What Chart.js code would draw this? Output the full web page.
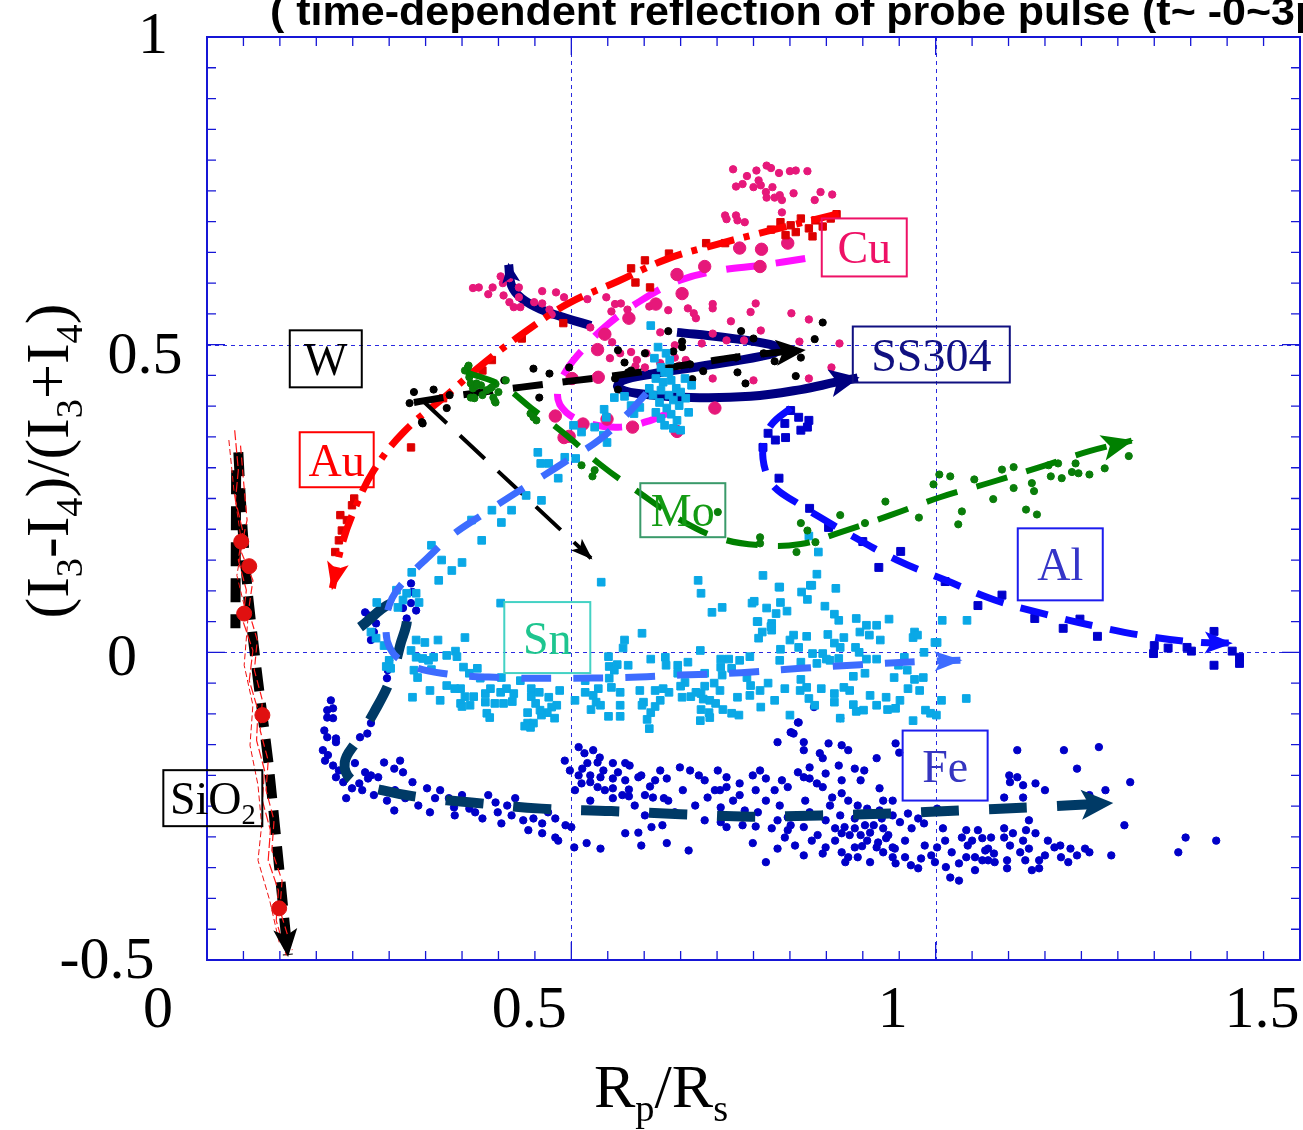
<!DOCTYPE html>
<html><head><meta charset="utf-8">
<script src="https://cdn.jsdelivr.net/npm/chart.js@4.4.0/dist/chart.umd.min.js"></script>
<style>html,body{margin:0;padding:0;background:#fff;}canvas{display:block;}</style>
</head><body>
<canvas id="c" width="1303" height="1130"></canvas>
<script>
// ---------------- axis ticks ----------------
const xTickValues = [0, 0.5, 1, 1.5];
const xTickLabels = ['0', '0.5', '1', '1.5'];
const yTickValues = [-0.5, 0, 0.5, 1];
const yTickLabels = ['-0.5', '0', '0.5', '1'];
const xGridValues = [0.5, 1.0];
const yGridValues = [0, 0.5];
const titleText = '( time-dependent reflection of probe pulse (t~ -0~3ps) )';

// ---------------- data (Rp/Rs , (I3-I4)/(I3+I4)) ----------------
const sio2Circles = [[0.047,0.180],[0.058,0.140],[0.051,0.063],[0.076,-0.102],[0.099,-0.416]];
const sio2Trace1 = [[0.038,0.361],[0.043,0.296],[0.039,0.247],[0.049,0.198],[0.043,0.150],[0.054,0.101],[0.049,0.052],[0.063,0.003],[0.058,-0.046],[0.070,-0.094],[0.068,-0.143],[0.079,-0.192],[0.076,-0.241],[0.087,-0.289],[0.084,-0.338],[0.098,-0.387],[0.095,-0.436],[0.109,-0.493]];
const sio2Trace2 = [[0.046,0.336],[0.050,0.280],[0.055,0.215],[0.046,0.166],[0.063,0.117],[0.057,0.068],[0.069,0.020],[0.065,-0.029],[0.076,-0.078],[0.073,-0.127],[0.084,-0.176],[0.081,-0.224],[0.092,-0.273],[0.089,-0.322],[0.103,-0.371],[0.100,-0.419],[0.117,-0.484]];
const sio2Trace3 = [[0.030,0.345],[0.037,0.263],[0.048,0.174],[0.041,0.125],[0.056,0.052],[0.051,-0.021],[0.063,-0.086],[0.059,-0.151],[0.070,-0.216],[0.075,-0.281],[0.070,-0.338],[0.086,-0.403],[0.100,-0.476]];
const sio2Trend = [[0.043,0.325],[0.049,0.198],[0.057,0.085],[0.070,-0.046],[0.084,-0.176],[0.098,-0.338],[0.111,-0.492]];
const sio2Early = [[0.040,0.296],[0.039,0.039]];
const sio2Outer = [[-0.050,0.340],[-0.047,0.296],[-0.043,0.291]];

const moTrend = [[0.356,0.455],[0.404,0.434],[0.445,0.397],[0.493,0.353],[0.541,0.304],[0.589,0.263],[0.650,0.215],[0.705,0.185],[0.760,0.174],[0.815,0.176],[0.869,0.195],[0.938,0.223],[1.006,0.252],[1.075,0.276],[1.143,0.301],[1.211,0.327],[1.269,0.344]];
const moPoints = [[0.358,0.463],[0.354,0.458],[0.360,0.447],[0.362,0.437],[0.365,0.429],[0.370,0.437],[0.362,0.414],[0.367,0.413],[0.378,0.418],[0.389,0.429],[0.393,0.414],[0.396,0.406],[0.384,0.426],[0.376,0.434],[0.410,0.442],[0.396,0.436],[0.448,0.382],[0.444,0.388],[0.359,0.466],[0.370,0.434],[0.391,0.431],[0.400,0.423],[0.395,0.408],[0.366,0.414],[0.514,0.304],[0.532,0.296],[0.529,0.286],[0.452,0.377],[1.005,0.289],[1.020,0.286],[0.997,0.273],[1.053,0.281],[1.091,0.297],[1.107,0.301],[1.107,0.267],[1.079,0.249],[1.124,0.232],[1.139,0.224],[1.132,0.275],[1.135,0.262],[1.036,0.229],[1.031,0.208],[0.977,0.219],[0.903,0.210],[0.931,0.245],[0.869,0.223],[0.815,0.210],[0.824,0.198],[0.835,0.179],[0.809,0.163],[0.759,0.187],[0.759,0.177],[0.701,0.228],[1.155,0.304],[1.168,0.307],[1.158,0.286],[1.173,0.283],[1.187,0.293],[1.196,0.291],[1.211,0.289],[1.232,0.299],[1.265,0.319],[1.192,0.307]];

const alTrend = [[0.801,0.397],[0.774,0.369],[0.763,0.332],[0.767,0.293],[0.780,0.267],[0.808,0.244],[0.839,0.221],[0.884,0.190],[0.947,0.150],[1.014,0.117],[1.081,0.085],[1.150,0.062],[1.221,0.042],[1.291,0.026],[1.362,0.016],[1.405,0.015]];
const alPoints = [[0.801,0.393],[0.812,0.382],[0.826,0.377],[0.824,0.366],[0.815,0.361],[0.793,0.372],[0.780,0.345],[0.770,0.356],[0.763,0.333],[0.794,0.349],[0.785,0.283],[0.827,0.234],[0.853,0.203],[0.900,0.180],[0.922,0.138],[0.952,0.164],[1.013,0.115],[1.058,0.076],[1.091,0.093],[1.136,0.055],[1.175,0.039],[1.198,0.054],[1.222,0.026],[1.300,0.011],[1.299,-0.002],[1.319,0.007],[1.345,0.008],[1.351,0.002],[1.382,0.034],[1.382,-0.021],[1.407,0.002],[1.417,-0.008],[1.417,-0.018]];

const snTrend = [[0.603,0.421],[0.575,0.385],[0.538,0.345],[0.500,0.316],[0.463,0.288],[0.425,0.260],[0.377,0.223],[0.336,0.190],[0.302,0.153],[0.274,0.120],[0.254,0.088],[0.246,0.049],[0.251,0.007],[0.274,-0.018],[0.322,-0.034],[0.404,-0.041],[0.486,-0.042],[0.568,-0.041],[0.650,-0.037],[0.733,-0.033],[0.815,-0.026],[0.897,-0.020],[0.979,-0.015],[1.034,-0.013]];
const snPoints = [[0.350,0.146],[0.318,0.117],[0.403,0.080],[0.541,0.114],[0.674,0.117],[0.678,0.096],[0.763,0.125],[0.837,0.127],[0.786,0.106],[0.828,0.109],[0.863,0.104],[0.816,0.098],[0.824,0.086],[0.748,0.080],[0.768,0.072],[0.787,0.081],[0.796,0.067],[0.781,0.063],[0.848,0.075],[0.707,0.073],[0.693,0.065],[0.861,0.062],[0.755,0.050],[0.775,0.047],[0.775,0.036],[0.762,0.033],[0.891,0.055],[0.905,0.044],[0.919,0.044],[0.936,0.054],[0.867,0.052],[0.805,0.028],[0.823,0.026],[0.852,0.029],[0.874,0.024],[0.861,0.015],[0.869,0.008],[0.890,0.008],[0.895,0.000],[0.909,0.028],[0.971,0.033],[0.969,0.024],[0.999,0.016],[0.787,0.005],[0.812,0.008],[0.831,-0.002],[0.845,-0.002],[0.850,-0.011],[0.867,-0.010],[0.905,-0.011],[0.919,-0.011],[0.957,-0.008],[0.984,0.000],[0.815,-0.016],[0.837,-0.018],[0.903,-0.034],[0.949,-0.021],[0.961,-0.029],[0.971,-0.044],[0.983,-0.041],[0.887,-0.039],[0.943,-0.041],[0.815,-0.044],[0.823,-0.057],[0.843,-0.059],[0.874,-0.057],[0.962,-0.059],[0.826,-0.075],[0.861,-0.067],[0.861,-0.081],[0.932,-0.073],[0.887,-0.085],[0.919,-0.086],[0.934,-0.093],[0.945,-0.091],[0.901,-0.094],[0.891,-0.096],[0.869,-0.107],[0.969,-0.111],[0.986,-0.094],[0.993,-0.099],[1.008,-0.078],[1.042,-0.075],[1.009,0.052],[1.043,0.052],[0.975,0.028],[1.002,0.016],[1.001,-0.102],
[0.552,-0.023],[0.563,-0.020],[0.559,-0.029],[0.578,-0.021],[0.609,-0.011],[0.629,-0.008],[0.646,-0.021],[0.660,-0.016],[0.630,-0.021],[0.646,-0.034],[0.656,-0.049],[0.551,-0.007],[0.597,0.031],[0.573,0.020],[0.571,0.007],[0.552,-0.042],[0.555,-0.057],[0.567,-0.065],[0.537,-0.059],[0.530,-0.070],[0.519,-0.065],[0.534,-0.081],[0.540,-0.086],[0.527,-0.093],[0.551,-0.104],[0.567,-0.104],[0.599,-0.081],[0.597,-0.086],[0.609,-0.098],[0.615,-0.088],[0.604,-0.109],[0.607,-0.124],[0.615,-0.062],[0.626,-0.059],[0.634,-0.065],[0.652,-0.073],[0.650,-0.055],[0.664,-0.072],[0.678,-0.067],[0.681,-0.076],[0.690,-0.078],[0.698,-0.083],[0.678,-0.093],[0.689,-0.098],[0.708,-0.093],[0.690,-0.106],[0.720,-0.099],[0.730,-0.102],[0.728,-0.073],[0.745,-0.070],[0.746,-0.054],[0.741,-0.041],[0.770,-0.050],[0.760,-0.089],[0.793,-0.059],[0.745,-0.007],[0.716,-0.011],[0.705,-0.011],[0.705,-0.024],[0.720,-0.026],[0.707,-0.037],[0.683,-0.034],[0.696,-0.050],[0.683,-0.055],[0.671,-0.065],
[0.311,-0.008],[0.329,-0.005],[0.341,0.002],[0.343,-0.007],[0.352,-0.024],[0.371,-0.026],[0.360,-0.034],[0.375,-0.042],[0.329,-0.054],[0.348,-0.059],[0.354,-0.072],[0.348,-0.083],[0.366,-0.072],[0.382,-0.067],[0.389,-0.059],[0.382,-0.081],[0.395,-0.083],[0.403,-0.065],[0.411,-0.059],[0.421,-0.067],[0.419,-0.080],[0.407,-0.083],[0.404,-0.041],[0.445,-0.059],[0.445,-0.072],[0.456,-0.065],[0.469,-0.073],[0.480,-0.086],[0.451,-0.083],[0.440,-0.098],[0.384,-0.099],[0.388,-0.106],[0.473,-0.089],[0.477,-0.107],[0.467,-0.098],[0.440,-0.115],[0.448,-0.115],[0.444,-0.122],[0.459,-0.102],[0.436,-0.120],
[0.225,0.033],[0.232,0.023],[0.243,0.011],[0.250,-0.013],[0.252,-0.026],[0.246,-0.023],[0.287,0.020],[0.299,0.016],[0.280,0.003],[0.287,-0.008],[0.296,-0.010],[0.304,-0.013],[0.284,-0.029],[0.289,-0.041],[0.308,-0.028],[0.317,0.020],[0.354,0.024],[0.282,-0.073],[0.350,-0.088],[0.269,0.085],[0.274,0.096],[0.291,0.081],[0.262,0.073],[0.233,0.081],[0.287,0.096],
[0.609,0.531],[0.619,0.496],[0.630,0.486],[0.614,0.478],[0.635,0.475],[0.623,0.463],[0.628,0.455],[0.616,0.445],[0.626,0.439],[0.637,0.442],[0.644,0.429],[0.623,0.426],[0.634,0.418],[0.650,0.423],[0.640,0.410],[0.621,0.406],[0.631,0.397],[0.648,0.401],[0.657,0.413],[0.637,0.387],[0.623,0.380],[0.645,0.377],[0.661,0.390],[0.628,0.369],[0.640,0.364],[0.650,0.361],[0.616,0.390],[0.612,0.418],[0.665,0.434],[0.607,0.429],[0.634,0.455],[0.656,0.445],
[0.559,0.414],[0.573,0.416],[0.582,0.401],[0.594,0.398],[0.545,0.395],[0.548,0.382],[0.586,0.388],[0.532,0.366],[0.514,0.358],[0.503,0.369],[0.544,0.353],[0.549,0.341],[0.506,0.315],[0.491,0.317],[0.454,0.325],[0.458,0.307],[0.482,0.283],[0.469,0.307],[0.438,0.255],[0.418,0.231],[0.459,0.247],[0.391,0.231],[0.363,0.215],[0.404,0.211],[0.308,0.174],[0.322,0.150],[0.281,0.130],[0.260,0.101],[0.336,0.133],[0.377,0.182],
[0.826,0.189],[0.839,0.163],[0.785,0.106],[0.830,0.109],[0.751,0.083],[0.756,0.050],[0.774,0.042],[0.757,0.023],
[0.306,-0.062],[0.320,-0.078],[0.340,-0.059],[0.361,-0.086],[0.430,-0.046],[0.457,-0.094],[0.484,-0.062],[0.505,-0.078],[0.519,-0.046],[0.567,-0.086],[0.594,-0.062],[0.622,-0.078],[0.677,-0.111],[0.704,-0.062],[0.759,-0.062],[0.779,-0.078],[0.800,-0.102],[0.814,-0.062],[0.834,-0.086],[0.882,-0.062],[0.910,-0.070],[0.951,-0.078],[0.978,-0.062],[0.924,0.020],[0.896,0.033],[0.855,-0.013],[0.800,0.020],[0.786,-0.013],[0.731,-0.013],[0.677,0.003]];

const feTrend = [[0.210,0.041],[0.257,0.081],[0.274,0.060],[0.265,0.011],[0.251,-0.046],[0.229,-0.098],[0.206,-0.143],[0.189,-0.179],[0.199,-0.208],[0.240,-0.224],[0.295,-0.236],[0.363,-0.244],[0.459,-0.254],[0.555,-0.258],[0.650,-0.263],[0.746,-0.267],[0.842,-0.265],[0.938,-0.262],[1.034,-0.257],[1.129,-0.252],[1.241,-0.245]];
const fePoints = [[0.280,0.112],[0.282,0.098],[0.280,0.080],[0.287,0.068],[0.269,0.072],[0.274,0.055],[0.217,0.065],[0.222,0.060],[0.232,0.047],[0.229,0.033],[0.225,0.020],[0.250,-0.013],[0.248,-0.029],[0.247,-0.042],[0.170,-0.078],[0.173,-0.091],[0.165,-0.106],[0.161,-0.127],[0.177,-0.140],[0.225,-0.115],[0.210,-0.138],[0.220,-0.132],[0.165,-0.094],[0.173,-0.107],[0.165,-0.138],[0.177,-0.146],[0.159,-0.159],[0.166,-0.167],[0.162,-0.176],[0.173,-0.184],[0.181,-0.192],[0.177,-0.203],[0.187,-0.211],[0.191,-0.237],[0.199,-0.221],[0.209,-0.213],[0.221,-0.205],[0.217,-0.195],[0.225,-0.200],[0.213,-0.224],[0.203,-0.180],[0.833,-0.089],[0.812,-0.114],[0.802,-0.130],[0.869,-0.107],
[0.243,-0.179],[0.265,-0.176],[0.257,-0.189],[0.269,-0.195],[0.282,-0.211],[0.302,-0.221],[0.235,-0.203],[0.229,-0.232],[0.247,-0.241],[0.257,-0.257],[0.313,-0.237],[0.332,-0.237],[0.360,-0.254],[0.378,-0.270],[0.339,-0.252],[0.396,-0.244],[0.412,-0.249],[0.418,-0.265],[0.404,-0.278],[0.434,-0.273],[0.448,-0.270],[0.460,-0.278],[0.478,-0.270],[0.492,-0.281],[0.460,-0.294],[0.478,-0.301],[0.500,-0.284],[0.504,-0.317],[0.521,-0.310],[0.540,-0.319],[0.510,-0.154],[0.518,-0.164],[0.530,-0.159],[0.522,-0.180],[0.536,-0.179],[0.557,-0.180],[0.574,-0.180],[0.544,-0.192],[0.510,-0.200],[0.526,-0.200],[0.540,-0.203],[0.557,-0.205],[0.574,-0.208],[0.592,-0.203],[0.514,-0.213],[0.536,-0.219],[0.557,-0.221],[0.579,-0.223],[0.596,-0.200],[0.526,-0.241],[0.557,-0.237],[0.579,-0.234],[0.608,-0.218],[0.631,-0.205],[0.649,-0.187],[0.612,-0.236],[0.627,-0.237],[0.653,-0.224],[0.675,-0.200],[0.683,-0.208],[0.697,-0.224],[0.687,-0.236],[0.713,-0.203],[0.713,-0.219],[0.731,-0.213],[0.731,-0.232],[0.749,-0.200],[0.753,-0.224],[0.767,-0.241],[0.601,-0.265],[0.610,-0.284],[0.625,-0.281],[0.574,-0.294],[0.592,-0.293],[0.596,-0.314],[0.631,-0.310],[0.661,-0.322],[0.705,-0.252],[0.705,-0.276],[0.713,-0.284],[0.735,-0.281],[0.753,-0.283],[0.775,-0.286],[0.783,-0.273],[0.797,-0.268],[0.801,-0.281],[0.819,-0.284],[0.793,-0.301],[0.767,-0.341],[0.749,-0.310],[0.783,-0.319],[0.819,-0.330],[0.845,-0.327],[0.849,-0.317],[0.862,-0.306],[0.871,-0.325],[0.889,-0.317],[0.880,-0.333],[0.893,-0.333],[0.871,-0.294],[0.875,-0.284],[0.889,-0.286],[0.897,-0.297],[0.906,-0.306],[0.910,-0.293],[0.915,-0.281],[0.928,-0.286],[0.932,-0.302],[0.941,-0.317],[0.941,-0.333],[0.958,-0.333],[0.966,-0.346],[0.976,-0.351],[0.945,-0.343],[0.928,-0.325],[0.919,-0.317],[0.980,-0.335],[0.994,-0.330],[1.002,-0.317],[1.014,-0.349],[1.020,-0.366],[1.032,-0.371],[1.032,-0.343],[1.042,-0.333],[1.036,-0.301],[1.050,-0.306],[1.064,-0.302],[1.072,-0.319],[1.080,-0.327],[1.094,-0.301],[1.106,-0.294],[1.120,-0.306],[1.128,-0.319],[1.142,-0.338],[1.150,-0.330],[1.142,-0.351],[1.098,-0.338],[1.072,-0.338],[1.064,-0.338],[1.054,-0.333],[1.098,-0.351],[1.116,-0.325],[1.163,-0.317],[1.185,-0.319],[1.194,-0.330],[1.211,-0.325],[1.172,-0.333],[1.241,-0.330],[1.137,-0.294],[1.124,-0.289],[1.094,-0.286],[1.076,-0.301],[1.058,-0.289],[1.042,-0.289],[1.112,-0.203],[1.101,-0.200],[1.120,-0.216],[1.094,-0.236],[1.120,-0.236],[1.128,-0.273],[1.112,-0.159],[1.176,-0.159],[1.194,-0.189],[1.224,-0.154],[1.233,-0.224],[1.211,-0.232],[1.267,-0.211],[1.259,-0.281],[1.333,-0.325],[1.343,-0.301],[1.385,-0.306],[1.002,-0.254],[1.010,-0.286],[0.984,-0.278],[0.976,-0.270],[0.962,-0.262],[0.941,-0.265],[0.923,-0.257],[0.906,-0.254],[0.893,-0.249],[0.880,-0.241],[0.871,-0.229],[0.858,-0.236],[0.845,-0.219],[0.837,-0.213],[0.827,-0.205],[0.819,-0.203],[0.811,-0.195],[0.797,-0.219],[0.789,-0.208],[0.779,-0.224],[0.767,-0.205],[0.845,-0.172],[0.841,-0.164],[0.853,-0.148],[0.871,-0.151],[0.880,-0.159],[0.867,-0.184],[0.889,-0.189],[0.902,-0.192],[0.919,-0.172],[0.945,-0.148],[0.950,-0.163],[0.923,-0.221],[0.928,-0.241],[0.941,-0.241],[0.897,-0.208],[0.871,-0.208],[0.849,-0.197],[0.801,-0.130],[0.805,-0.132],[0.783,-0.146],[0.811,-0.114],[0.819,-0.159],[0.827,-0.187],[0.819,-0.146],[1.137,-0.213],[1.150,-0.224],[1.102,-0.211],
[0.491,-0.176],[0.498,-0.192],[0.505,-0.224],[0.515,-0.189],[0.526,-0.211],[0.539,-0.171],[0.546,-0.224],[0.564,-0.195],[0.570,-0.232],[0.580,-0.184],[0.601,-0.232],[0.615,-0.208],[0.587,-0.249],[0.622,-0.192],[0.633,-0.241],[0.642,-0.260],[0.663,-0.192],[0.670,-0.249],[0.683,-0.273],[0.701,-0.192],[0.704,-0.224],[0.722,-0.241],[0.738,-0.257],[0.756,-0.260],[0.759,-0.192],[0.786,-0.249],[0.797,-0.289],[0.807,-0.314],[0.821,-0.241],[0.827,-0.260],[0.830,-0.306],[0.838,-0.297],[0.849,-0.273],[0.855,-0.249],[0.862,-0.286],[0.869,-0.265],[0.876,-0.341],[0.882,-0.297],[0.889,-0.270],[0.899,-0.315],[0.903,-0.281],[0.910,-0.341],[0.921,-0.309],[0.926,-0.270],[0.935,-0.297],[0.944,-0.319],[0.951,-0.276],[0.958,-0.306],[0.967,-0.286],[0.985,-0.314],[0.999,-0.341],[1.013,-0.306],[1.022,-0.325],[1.044,-0.314],[1.054,-0.354],[1.068,-0.322],[1.081,-0.341],[1.102,-0.314],[1.123,-0.338],[1.132,-0.354],[1.154,-0.306],[1.171,-0.314],[1.182,-0.341],[1.205,-0.319],[0.258,-0.224],[0.272,-0.237],[0.290,-0.249],[0.306,-0.260],[0.320,-0.224],[0.340,-0.265],[0.350,-0.232],[0.368,-0.260],[0.386,-0.232],[0.399,-0.260],[0.423,-0.237],[0.441,-0.289],[0.450,-0.254],[0.468,-0.260],[0.482,-0.306]];

const wTrend = [[0.284,0.406],[0.336,0.416],[0.432,0.431],[0.507,0.442],[0.555,0.449],[0.609,0.458],[0.678,0.471],[0.746,0.483],[0.819,0.491]];
const wDrift = [[0.295,0.410],[0.527,0.153]];
const wPoints = [[0.448,0.461],[0.470,0.453],[0.497,0.463],[0.408,0.442],[0.456,0.414],[0.564,0.491],[0.573,0.471],[0.601,0.486],[0.633,0.522],[0.640,0.489],[0.652,0.505],[0.652,0.496],[0.663,0.468],[0.681,0.457],[0.666,0.444],[0.726,0.479],[0.728,0.455],[0.739,0.437],[0.733,0.522],[0.750,0.510],[0.764,0.486],[0.779,0.473],[0.808,0.449],[0.815,0.479],[0.834,0.509],[0.845,0.536],[0.560,0.445],[0.564,0.427],[0.578,0.455],[0.582,0.458],[0.311,0.427],[0.333,0.418],[0.329,0.397],[0.295,0.374],[0.284,0.423],[0.278,0.405],[0.296,0.372]];

const auTrend = [[0.867,0.713],[0.768,0.684],[0.700,0.663],[0.631,0.639],[0.564,0.603],[0.496,0.567],[0.438,0.522],[0.381,0.471],[0.329,0.418],[0.270,0.358],[0.229,0.296],[0.202,0.231],[0.185,0.174],[0.172,0.104]];
const auPoints = [[0.787,0.699],[0.801,0.694],[0.815,0.705],[0.826,0.689],[0.835,0.702],[0.845,0.692],[0.856,0.705],[0.864,0.712],[0.808,0.683],[0.831,0.676],[0.794,0.678],[0.774,0.687],[0.711,0.665],[0.685,0.665],[0.634,0.648],[0.601,0.637],[0.582,0.624],[0.588,0.601],[0.608,0.593],[0.489,0.535],[0.432,0.510],[0.391,0.475],[0.378,0.458],[0.324,0.413],[0.280,0.333],[0.199,0.239],[0.192,0.215],[0.185,0.198],[0.181,0.182],[0.202,0.250],[0.176,0.163],[0.183,0.223]];

const cuBig = [[0.579,0.543],[0.546,0.517],[0.536,0.492],[0.616,0.566],[0.645,0.614],[0.652,0.583],[0.683,0.627],[0.731,0.657],[0.761,0.655],[0.797,0.665],[0.759,0.627],[0.501,0.445],[0.537,0.447],[0.478,0.384],[0.516,0.371],[0.549,0.379],[0.584,0.366],[0.490,0.349],[0.497,0.351],[0.645,0.359],[0.697,0.397]];
const cuTrend = [[0.821,0.640],[0.760,0.629],[0.705,0.621],[0.650,0.605],[0.596,0.572],[0.548,0.531],[0.521,0.499],[0.493,0.458],[0.481,0.418],[0.493,0.390],[0.527,0.371],[0.568,0.366],[0.609,0.377],[0.640,0.393]];
const cuPoints = [[0.722,0.785],[0.741,0.774],[0.754,0.783],[0.768,0.791],[0.774,0.787],[0.785,0.779],[0.800,0.782],[0.808,0.783],[0.824,0.782],[0.757,0.767],[0.760,0.759],[0.750,0.756],[0.726,0.757],[0.735,0.761],[0.767,0.748],[0.776,0.756],[0.779,0.739],[0.768,0.739],[0.786,0.743],[0.789,0.735],[0.805,0.746],[0.842,0.748],[0.858,0.744],[0.834,0.735],[0.789,0.715],[0.711,0.710],[0.726,0.710],[0.713,0.704],[0.728,0.702],[0.738,0.699],
[0.365,0.592],[0.373,0.593],[0.386,0.582],[0.392,0.593],[0.403,0.611],[0.415,0.608],[0.406,0.600],[0.428,0.593],[0.407,0.580],[0.415,0.569],[0.428,0.577],[0.421,0.561],[0.430,0.561],[0.449,0.569],[0.460,0.587],[0.479,0.585],[0.490,0.577],[0.460,0.567],[0.470,0.557],[0.473,0.549],[0.522,0.574],[0.548,0.577],[0.560,0.566],[0.568,0.567],[0.555,0.554],[0.577,0.557],[0.607,0.562],[0.616,0.567],[0.633,0.556],[0.660,0.559],[0.668,0.551],[0.671,0.543],[0.694,0.566],[0.694,0.559],[0.719,0.538],[0.753,0.567],[0.746,0.553],[0.802,0.551],[0.826,0.541],[0.622,0.520],[0.694,0.518],[0.713,0.507],[0.737,0.507],[0.760,0.523],[0.813,0.505],[0.868,0.502],[0.679,0.502],[0.642,0.499],[0.857,0.463],[0.826,0.445],[0.750,0.442],[0.694,0.445],[0.526,0.528],[0.556,0.504],[0.567,0.486],[0.582,0.488],[0.590,0.475],[0.603,0.486],[0.553,0.478],[0.588,0.465],[0.601,0.463],[0.642,0.479],[0.657,0.475],[0.648,0.466],[0.622,0.470]];

const ss304Return = [[0.527,0.531],[0.493,0.543],[0.459,0.557],[0.432,0.575],[0.418,0.596],[0.414,0.630]];
const ss304Loop = [[0.645,0.520],[0.708,0.512],[0.774,0.500],[0.785,0.491],[0.760,0.481],[0.678,0.465],[0.609,0.452],[0.571,0.442],[0.564,0.431],[0.589,0.421],[0.664,0.414],[0.746,0.416],[0.815,0.427],[0.863,0.439],[0.893,0.446]];

// ---------------- in-plot labels (data coordinates of box centres) ----------------
const materialLabels = [
  {segs:[{t:'W'}], x:0.163, y:0.477, w:72, h:57, text:'#000000', border:'#000000'},
  {segs:[{t:'Au'}], x:0.178, y:0.313, w:74, h:55, text:'#ff0000', border:'#ff0000'},
  {segs:[{t:'Cu'}], x:0.902, y:0.658, w:85, h:58, text:'#ee1166', border:'#ee1166'},
  {segs:[{t:'SS304'}], x:0.994, y:0.484, w:157, h:56, text:'#101080', border:'#101080'},
  {segs:[{t:'Mo'}], x:0.653, y:0.231, w:85, h:54, text:'#139a13', border:'#3a9a6a'},
  {segs:[{t:'Al'}], x:1.171, y:0.143, w:85, h:72, text:'#3535c8', border:'#1c1cee'},
  {segs:[{t:'Sn'}], x:0.467, y:0.024, w:86, h:71, text:'#1ec58f', border:'#44d2c4'},
  {segs:[{t:'Fe'}], x:1.013, y:-0.184, w:85, h:70, text:'#3535c0', border:'#1c1cee'},
  {segs:[{t:'SiO'},{t:'2',sub:true}], x:0.008, y:-0.237, w:99, h:56, text:'#000000', border:'#000000'}
];

const SERIF = '"Liberation Serif", "Times New Roman", Times, serif';
const SANS = '"Liberation Sans", Arial, Helvetica, sans-serif';
const toXY = a => a.map(p => ({x:p[0], y:p[1]}));

function pts(label, arr, color, style, r, extra) {
  return Object.assign({label, data:toXY(arr), showLine:false, pointStyle:style, pointRadius:r,
    pointBackgroundColor:color, pointBorderColor:color, pointBorderWidth:1, pointHoverRadius:r}, extra||{});
}
function line(label, arr, color, width, dash, arrow, tension, extra) {
  return Object.assign({label, data:toXY(arr), showLine:true, pointRadius:0, pointHoverRadius:0,
    borderColor:color, backgroundColor:color, borderWidth:width, borderDash:dash, borderCapStyle:'butt',
    borderJoinStyle:'round', fill:false, tension:(tension===undefined?0.4:tension), arrow:arrow}, extra||{});
}

const datasets = [
  pts('SiO2 circles', sio2Circles, '#e01010', 'circle', 7.5),
  line('SiO2 trace 1', sio2Trace1, '#ff1a1a', 1.2, [10,3], null, 0),
  line('SiO2 trace 2', sio2Trace2, '#ff1a1a', 1.2, [8,4], null, 0),
  line('SiO2 trace 3', sio2Trace3, '#ee1010', 1.0, [6,3], null, 0),
  line('SiO2 trend', sio2Trend, '#000000', 10, [24,12], [26,24], 0.2),
  line('SiO2 early', sio2Early, '#000000', 10, [24,12], null, 0),
  pts('SiO2 outer', sio2Outer, '#000000', 'circle', 2.8, {clip:false}),
  line('Mo trend', moTrend, '#008000', 6, [32,20], [30,26]),
  pts('Mo', moPoints, '#0a7d0a', 'circle', 3.6),
  line('Al trend', alTrend, '#0a0aff', 7, [28,18], [26,22]),
  pts('Al', alPoints, '#0000cc', 'rect', 5.6),
  line('Sn trend', snTrend, '#3d6cff', 7, [30,22], [26,20]),
  pts('Sn', snPoints, '#0aa8e6', 'rect', 5.4),
  line('Fe trend', feTrend, '#003a66', 10, [38,30], [30,30]),
  pts('Fe', fePoints, '#0000c8', 'circle', 3.7),
  line('W trend', wTrend, '#000000', 7, [30,20], [28,26]),
  line('W drift', wDrift, '#000000', 4, [34,18], [20,16], 0),
  pts('W', wPoints, '#000000', 'circle', 3.6),
  line('Au trend', auTrend, '#ff0000', 7, [28,10,6,10], [26,22]),
  pts('Au', auPoints, '#dd0000', 'rect', 5.2),
  pts('Cu big', cuBig, '#e6187a', 'circle', 6.2),
  line('Cu trend', cuTrend, '#ff10ff', 7, [30,20], null),
  pts('Cu', cuPoints, '#e6187a', 'circle', 3.7),
  line('SS304 return', ss304Return, '#000080', 9, [], [18,18]),
  line('SS304 loop', ss304Loop, '#000080', 9, [], [28,28])
];

// ---------------- helpers ----------------
function richWidth(ctx, segs, size, family) {
  let w = 0;
  segs.forEach(s => { ctx.font = (s.sub ? size*0.62 : size) + 'px ' + family; w += ctx.measureText(s.t).width; });
  return w;
}
function drawRich(ctx, segs, x, y, size, family) {
  segs.forEach(s => {
    const fs = s.sub ? size*0.62 : size;
    ctx.font = fs + 'px ' + family;
    ctx.fillText(s.t, x, y + (s.sub ? size*0.22 : 0));
    x += ctx.measureText(s.t).width;
  });
}

const arrowPlugin = {
  id: 'arrowHeads',
  afterDatasetsDraw(chart) {
    const ctx = chart.ctx;
    chart.data.datasets.forEach((ds, i) => {
      if (!ds.arrow) return;
      const el = chart.getDatasetMeta(i).data;
      const n = el.length; if (n < 2) return;
      const a = el[n-2], b = el[n-1];
      let dx = b.x - a.x, dy = b.y - a.y; const L = Math.hypot(dx, dy) || 1; dx /= L; dy /= L;
      const len = ds.arrow[0], hw = ds.arrow[1]/2;
      const bx = b.x - dx*len, by = b.y - dy*len;
      ctx.save();
      ctx.fillStyle = ds.borderColor;
      ctx.beginPath();
      ctx.moveTo(b.x + dx*2, b.y + dy*2);
      ctx.lineTo(bx - dy*hw, by + dx*hw);
      ctx.lineTo(bx + dx*len*0.25, by + dy*len*0.25);
      ctx.lineTo(bx + dy*hw, by - dx*hw);
      ctx.closePath(); ctx.fill();
      ctx.restore();
    });
  }
};

const framePlugin = {
  id: 'idlFrame',
  beforeDatasetsDraw(chart) {
    const {ctx, chartArea:a, scales:{x, y}} = chart;
    ctx.save();
    ctx.strokeStyle = '#2a2ae0'; ctx.lineWidth = 1; ctx.setLineDash([4,4]);
    xGridValues.forEach(v => { const p = Math.round(x.getPixelForValue(v)) + 0.5;
      ctx.beginPath(); ctx.moveTo(p, a.top); ctx.lineTo(p, a.bottom); ctx.stroke(); });
    yGridValues.forEach(v => { const p = Math.round(y.getPixelForValue(v)) + 0.5;
      ctx.beginPath(); ctx.moveTo(a.left, p); ctx.lineTo(a.right, p); ctx.stroke(); });
    ctx.restore();
  },
  afterDraw(chart) {
    const {ctx, chartArea:a, scales:{x, y}} = chart;
    ctx.save();
    ctx.strokeStyle = '#1616d6'; ctx.lineWidth = 2; ctx.setLineDash([]);
    ctx.strokeRect(a.left, a.top, a.right - a.left, a.bottom - a.top);
    ctx.lineWidth = 1.3;
    for (let k = 0; k <= 30; k++) {
      const v = k * 0.05, p = x.getPixelForValue(v), len = (k % 10 === 0) ? 18 : 9;
      ctx.beginPath(); ctx.moveTo(p, a.bottom); ctx.lineTo(p, a.bottom - len);
      ctx.moveTo(p, a.top); ctx.lineTo(p, a.top + len); ctx.stroke();
    }
    for (let k = 0; k <= 30; k++) {
      const v = -0.5 + k * 0.05, p = y.getPixelForValue(v), len = (k % 10 === 0) ? 18 : 9;
      ctx.beginPath(); ctx.moveTo(a.left, p); ctx.lineTo(a.left + len, p);
      ctx.moveTo(a.right, p); ctx.lineTo(a.right - len, p); ctx.stroke();
    }
    ctx.fillStyle = '#000'; ctx.font = '60px ' + SERIF; ctx.textAlign = 'center'; ctx.textBaseline = 'alphabetic';
    const xLabelShift = [-49, -42, -43, -38];
    xTickValues.forEach((v, i) => ctx.fillText(xTickLabels[i], x.getPixelForValue(v) + xLabelShift[i], 1027));
    const yLabelCenter = [107, 122, 145, 153], yLabelDrop = [18, 23, 28, 16];
    yTickValues.forEach((v, i) => ctx.fillText(yTickLabels[i], yLabelCenter[i], y.getPixelForValue(v) + yLabelDrop[i]));
    ctx.textAlign = 'left';
    drawRich(ctx, [{t:'R'},{t:'p',sub:true},{t:'/R'},{t:'s',sub:true}], 594, 1107, 62, SERIF);
    const ySegs = [{t:'(I'},{t:'3',sub:true},{t:'-I'},{t:'4',sub:true},{t:')/(I'},{t:'3',sub:true},{t:'+I'},{t:'4',sub:true},{t:')'}];
    const yw = richWidth(ctx, ySegs, 62, SERIF);
    ctx.save(); ctx.translate(68, 461 + yw/2); ctx.rotate(-Math.PI/2);
    drawRich(ctx, ySegs, 0, 0, 62, SERIF); ctx.restore();
    ctx.font = 'bold 40px ' + SANS;
    const head = '( time-dependent reflection of probe pulse ';
    const sx = 872 / ctx.measureText(head).width;
    ctx.save(); ctx.translate(270, 25); ctx.scale(sx, 1); ctx.fillText(titleText, 0, 0); ctx.restore();
    materialLabels.forEach(L => {
      const cx = x.getPixelForValue(L.x), cy = y.getPixelForValue(L.y);
      ctx.strokeStyle = L.border; ctx.lineWidth = 2;
      ctx.strokeRect(cx - L.w/2, cy - L.h/2, L.w, L.h);
      ctx.fillStyle = L.text; ctx.textBaseline = 'alphabetic';
      const tw = richWidth(ctx, L.segs, 46, SERIF);
      drawRich(ctx, L.segs, cx - tw/2, cy + 16, 46, SERIF);
    });
    ctx.restore();
  }
};

new Chart(document.getElementById('c'), {
  type: 'scatter',
  data: { datasets },
  options: {
    responsive: false, animation: false, devicePixelRatio: 1,
    layout: { autoPadding: false, padding: { left: 207, right: 3, top: 37, bottom: 170 } },
    plugins: { legend: { display: false }, tooltip: { enabled: false }, title: { display: false } },
    scales: {
      x: { type: 'linear', min: 0, max: 1.5, display: false },
      y: { type: 'linear', min: -0.5, max: 1, display: false }
    }
  },
  plugins: [framePlugin, arrowPlugin]
});
</script>
</body></html>
